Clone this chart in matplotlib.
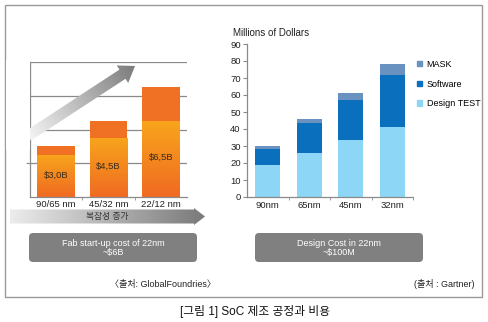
import numpy as np
import matplotlib
matplotlib.use('Agg')
import matplotlib.pyplot as plt
from matplotlib.patches import FancyArrow, Polygon, FancyBboxPatch, Rectangle, Patch
from matplotlib.colors import LinearSegmentedColormap

plt.rcParams['font.family'] = ['Liberation Sans', 'Noto Sans CJK KR', 'DejaVu Sans']

# fab start-up cost ($B)
fab_nodes = ['90/65 nm', '45/32 nm', '22/12 nm']
fab_total = [3.0, 4.5, 6.5]
fab_cap = [0.5, 1.0, 2.0]

# design cost (millions of dollars)
soc_nodes = ['90nm', '65nm', '45nm', '32nm']
design_test = [19, 26, 33.5, 41]
software = [9, 17.5, 23.5, 30.5]
mask = [2, 2.5, 4, 6.5]

W, H = 489, 322
fig = plt.figure(figsize=(W / 100, H / 100), dpi=100)


def px_axes(x0, y0, x1, y1, **kw):
    return fig.add_axes([x0 / W, 1 - y1 / H, (x1 - x0) / W, (y1 - y0) / H], **kw)


def grad_fill(ax, patch, x0, y0, x1, y1, c0, c1, box):
    xmin, xmax, ymin, ymax = box
    xs = np.linspace(xmin, xmax, 200)
    ys = np.linspace(ymin, ymax, 200)
    XX, YY = np.meshgrid(xs, ys)
    dx, dy = x1 - x0, y1 - y0
    t = ((XX - x0) * dx + (YY - y0) * dy) / (dx * dx + dy * dy)
    t = np.clip(t, 0, 1)
    cmap = LinearSegmentedColormap.from_list('g', [c0, c1])
    im = ax.imshow(t, extent=(xmin, xmax, ymin, ymax), origin='lower',
                   cmap=cmap, vmin=0, vmax=1, aspect='auto', zorder=patch.get_zorder())
    im.set_clip_path(patch)


grid_c = '#8a8a8a'
fs = 6.8

# ---- left: fab cost bars ----
axl = px_axes(30, 62, 187, 197)
axl.set_axisbelow(True)
xl = np.arange(len(fab_nodes))
base = [t - c for t, c in zip(fab_total, fab_cap)]
bw = 0.72
axl.set_xlim(-0.5, 2.5)
axl.set_ylim(0, 8)
for i in xl:
    p = axl.bar(i, base[i], bw, color='#F5901E', zorder=2)[0]
    grad_fill(axl, p, 0, base[i], 0, 0, '#F8A51C', '#F06A22',
              (i - bw / 2, i + bw / 2, 0, base[i]))
    axl.bar(i, fab_cap[i], bw, bottom=base[i], color='#F17124', zorder=3)
    axl.text(i, base[i] * 0.52, '$' + f'{fab_total[i]:.1f}B'.replace('.', ','),
             ha='center', va='center', fontsize=fs, color='#3a2a1a', zorder=4)
axl.set_yticks([2, 4, 6, 8])
axl.set_yticklabels([])
axl.grid(axis='y', color=grid_c, lw=0.9, zorder=0)
axl.set_xticks(xl)
axl.set_xticklabels(fab_nodes, fontsize=fs, color='#222')
axl.set_xticks([0.5, 1.5], minor=True)
axl.tick_params(axis='x', which='major', length=0, pad=2)
axl.tick_params(axis='x', which='minor', length=2.5, color=grid_c)
axl.tick_params(axis='y', length=3, color=grid_c)
for s in ['top', 'right']:
    axl.spines[s].set_visible(False)
for s in ['left', 'bottom']:
    axl.spines[s].set_color(grid_c)
    axl.spines[s].set_linewidth(0.9)

# ---- right: design cost stacked bars ----
axr = px_axes(247, 44, 413, 197)
xr = np.arange(len(soc_nodes))
c_dt, c_sw, c_mk = '#8ED6F6', '#0A6FBD', '#6A92C0'
sw_bottom = np.array(design_test)
mk_bottom = sw_bottom + np.array(software)
axr.bar(xr, design_test, 0.6, color=c_dt)
axr.bar(xr, software, 0.6, bottom=sw_bottom, color=c_sw)
axr.bar(xr, mask, 0.6, bottom=mk_bottom, color=c_mk)
axr.set_xlim(-0.5, 3.5)
axr.set_ylim(0, 90)
axr.set_yticks(range(0, 91, 10))
axr.tick_params(axis='y', length=3, color=grid_c, labelsize=fs, labelcolor='#222', pad=1.5)
axr.set_xticks(xr)
axr.set_xticklabels(soc_nodes, fontsize=fs, color='#222')
axr.set_xticks([0.5, 1.5, 2.5, 3.5], minor=True)
axr.tick_params(axis='x', which='major', length=0, pad=3)
axr.tick_params(axis='x', which='minor', length=2.5, color=grid_c)
for s in ['top', 'right']:
    axr.spines[s].set_visible(False)
for s in ['left', 'bottom']:
    axr.spines[s].set_color(grid_c)
    axr.spines[s].set_linewidth(0.9)
handles = [Patch(color=c_mk), Patch(color=c_sw), Patch(color=c_dt)]
fig.legend(handles, ['MASK', 'Software', 'Design TEST'], loc='upper left',
           bbox_to_anchor=(415 / W, 1 - 58 / H), frameon=False, fontsize=6.5,
           handlelength=0.6, handleheight=0.6, handletextpad=0.5,
           labelspacing=1.2, borderaxespad=0, borderpad=0.2)

# ---- overlay: frame, arrows, boxes, notes ----
ov = fig.add_axes([0, 0, 1, 1], zorder=10)
ov.set_xlim(0, W)
ov.set_ylim(H, 0)
ov.axis('off')

ov.add_patch(Rectangle((5, 5), 476.5, 292, fill=False, edgecolor='#9a9a9a', lw=1))

# diagonal "rising" arrow
ax0, ay0, ax1, ay1 = 28, 136, 135, 66
arr = FancyArrow(ax0, ay0, ax1 - ax0, ay1 - ay0, width=11, head_width=21,
                 head_length=15, length_includes_head=True,
                 facecolor='none', edgecolor='none')
ov.add_patch(arr)
grad_fill(ov, arr, ax0, ay0, ax1, ay1, '#f4f4f4', '#7c7c7c', (20, 145, 55, 150))
ov.add_patch(Rectangle((5.5, 60), 24, 90, facecolor='white', edgecolor='none', zorder=5))

# horizontal "complexity" arrow
harr = Polygon([(10, 209.5), (194, 209.5), (194, 208), (205, 216.5), (194, 225),
                (194, 223.5), (10, 223.5)], closed=True, facecolor='none', edgecolor='none')
ov.add_patch(harr)
grad_fill(ov, harr, 10, 216, 205, 216, '#ececec', '#7a7a7a', (8, 207, 205, 227))
ov.text(107, 216.5, '복잡성 증가', ha='center', va='center', fontsize=6.3, color='#333')

# summary boxes
for x0, x1, lines in [(29, 197, 'Fab start-up cost of 22nm\n~$6B'),
                      (255, 423, 'Design Cost in 22nm\n~$100M')]:
    ov.add_patch(FancyBboxPatch((x0, 233), x1 - x0, 29, boxstyle='round,pad=0,rounding_size=4',
                                facecolor='#808080', edgecolor='none'))
    ov.text((x0 + x1) / 2, 247.5, lines, ha='center', va='center', fontsize=6.5,
            color='white', linespacing=1.0)

ov.text(163, 284, '〈출처: GlobalFoundries〉', ha='center', va='center', fontsize=6.5, color='#222')
ov.text(475, 284, '(출처 : Gartner)', ha='right', va='center', fontsize=6.5, color='#222')
ov.text(233, 33, 'Millions of Dollars', ha='left', va='center', fontsize=7, color='#222')
ov.text(255, 311, '[그림 1] SoC 제조 공정과 비용', ha='center', va='center', fontsize=8.5, color='#111')

ov.set_xlim(0, W)
ov.set_ylim(H, 0)

fig.savefig('out.png', dpi=100)
